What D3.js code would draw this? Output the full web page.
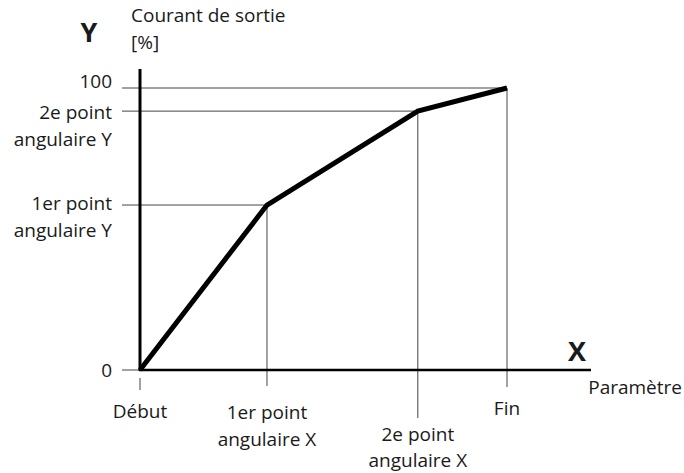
<!DOCTYPE html>
<html>
<head>
<meta charset="utf-8">
<script src="https://cdn.jsdelivr.net/npm/d3@7"></script>
<style>
  html, body { margin: 0; padding: 0; background: #fff; }
  svg text { font-family: "Open Sans", "Noto Sans", sans-serif; fill: #1a1a1a; }
</style>
</head>
<body>
<svg id="chart" width="684" height="473"></svg>
<script>
// Break points of the output-current characteristic (parameter %, current %)
const pointNames = ["Début", "1er point angulaire", "2e point angulaire", "Fin"];
const paramValues = [0, 34.6, 75.7, 100];
const currentValues = [0, 58.5, 91.8, 100];

const yTickLabels = [["0"], ["1er point", "angulaire Y"], ["2e point", "angulaire Y"], ["100"]];
const xTickLabels = [["Début"], ["1er point", "angulaire X"], ["2e point", "angulaire X"], ["Fin"]];

const svg = d3.select("#chart");
const FS = 19;

const x = d3.scaleLinear().domain([0, 100]).range([140, 507]);
const y = d3.scaleLinear().domain([0, 100]).range([370, 88]);

const guide = "#444";

// Horizontal guides from the left tick to each break point
svg.selectAll("line.hguide")
  .data(d3.range(1, paramValues.length))
  .join("line")
  .attr("x1", 122).attr("x2", i => x(paramValues[i]))
  .attr("y1", i => y(currentValues[i])).attr("y2", i => y(currentValues[i]))
  .attr("stroke", guide).attr("stroke-width", 1);

// Vertical guides from each break point down past the X axis
const vDrop = [390, 386, 418, 387];
svg.selectAll("line.vguide")
  .data(d3.range(paramValues.length))
  .join("line")
  .attr("x1", i => x(paramValues[i])).attr("x2", i => x(paramValues[i]))
  .attr("y1", i => i === 0 ? 378 : y(currentValues[i]))
  .attr("y2", i => vDrop[i])
  .attr("stroke", guide).attr("stroke-width", 1);

// Zero tick on the left
svg.append("line")
  .attr("x1", 122).attr("x2", 140).attr("y1", y(0)).attr("y2", y(0))
  .attr("stroke", guide).attr("stroke-width", 1);

// Axes
svg.append("line")
  .attr("x1", 140).attr("x2", 140).attr("y1", 69).attr("y2", 371)
  .attr("stroke", "#000").attr("stroke-width", 3);
svg.append("line")
  .attr("x1", 139).attr("x2", 591).attr("y1", y(0)).attr("y2", y(0))
  .attr("stroke", "#000").attr("stroke-width", 2.5);

// Characteristic curve
const line = d3.line().x(d => x(d[0])).y(d => y(d[1]));
svg.append("path")
  .datum(d3.zip(paramValues, currentValues))
  .attr("d", line)
  .attr("fill", "none")
  .attr("stroke", "#000")
  .attr("stroke-width", 5)
  .attr("stroke-linejoin", "miter")
  .attr("stroke-linecap", "butt");

// Y tick labels (centre line of each text row)
const yRows = [[370], [203, 230], [112, 139], [81]];
yTickLabels.forEach((lines, i) => {
  lines.forEach((t, k) => {
    svg.append("text")
      .attr("x", 112)
      .attr("y", yRows[i][k])
      .attr("dy", "0.35em")
      .attr("text-anchor", "end")
      .attr("font-size", FS)
      .text(t);
  });
});

// X tick labels
const xRows = [[411], [412, 439], [434, 460], [408]];
xTickLabels.forEach((lines, i) => {
  lines.forEach((t, k) => {
    svg.append("text")
      .attr("x", x(paramValues[i]))
      .attr("y", xRows[i][k])
      .attr("dy", "0.35em")
      .attr("text-anchor", "middle")
      .attr("font-size", FS)
      .text(t);
  });
});

// Axis titles
svg.append("text").attr("x", 89).attr("y", 33).attr("dy", "0.35em")
  .attr("text-anchor", "middle").attr("font-size", 27).attr("font-weight", "bold")
  .attr("font-family", "'DejaVu Sans', sans-serif").text("Y");
svg.append("text").attr("x", 131).attr("y", 15).attr("dy", "0.35em")
  .attr("font-size", FS).text("Courant de sortie");
svg.append("text").attr("x", 131).attr("y", 42).attr("dy", "0.35em")
  .attr("font-size", FS).text("[%]");

svg.append("text").attr("x", 577).attr("y", 352).attr("dy", "0.35em")
  .attr("text-anchor", "middle").attr("font-size", 27).attr("font-weight", "bold")
  .attr("font-family", "'DejaVu Sans', sans-serif").text("X");
svg.append("text").attr("x", 682).attr("y", 387).attr("dy", "0.35em")
  .attr("text-anchor", "end")
  .attr("font-size", FS).text("Paramètre");
</script>
</body>
</html>
